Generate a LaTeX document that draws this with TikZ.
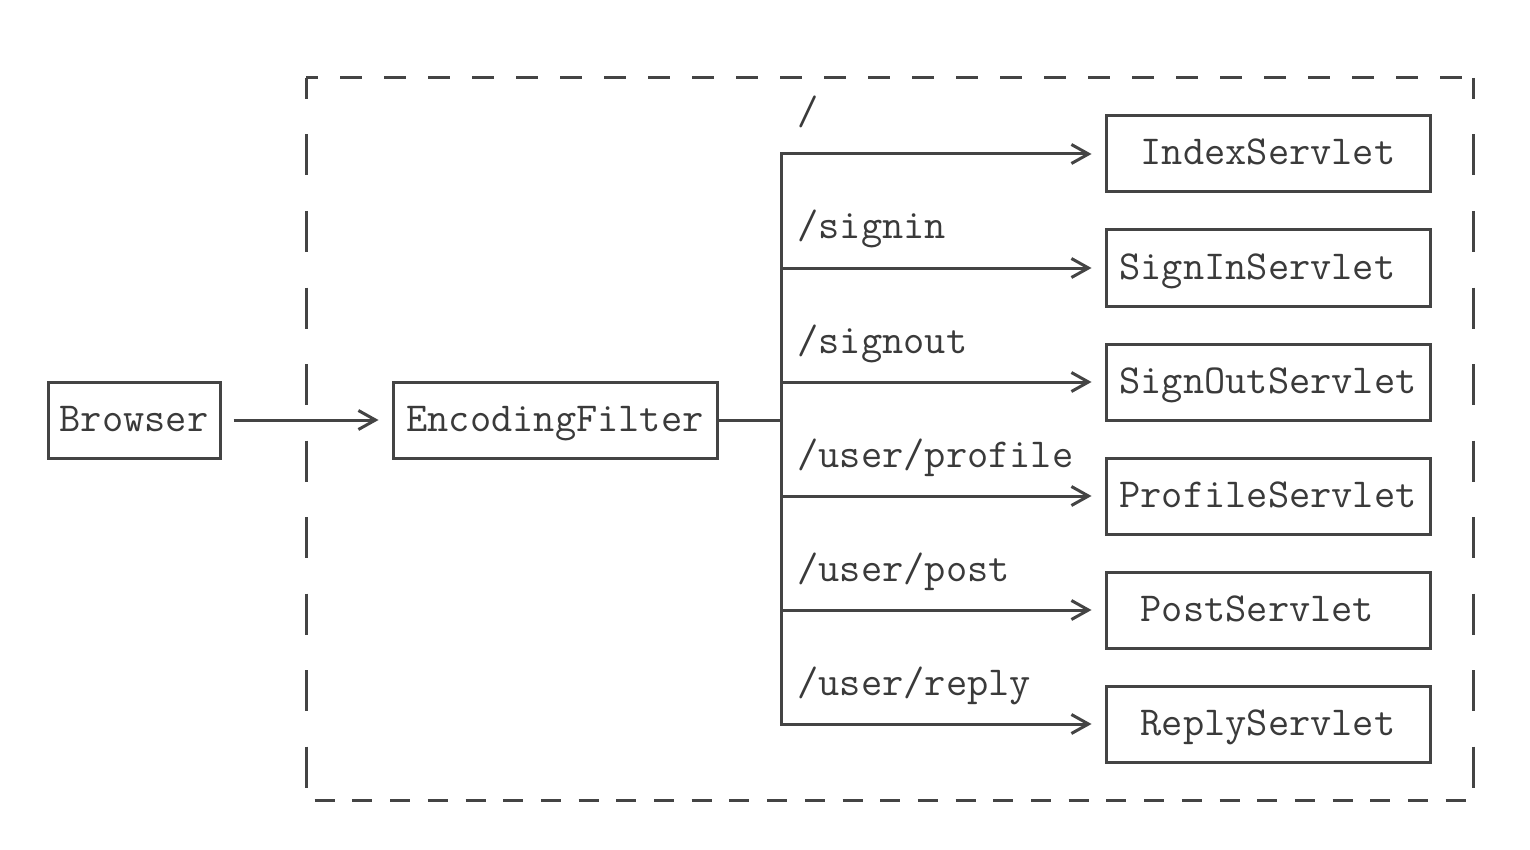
\documentclass[tikz,border=0pt]{standalone}
\usetikzlibrary{arrows.meta}
\definecolor{ink}{HTML}{444444}
\definecolor{txt}{HTML}{3A3A3A}
\begin{document}
\begin{tikzpicture}[x=0.5pt,y=-0.5pt,line width=1.5pt,
  lw/.style={draw=ink,line width=1.5pt},
  box/.style={lw,minimum height=38pt,inner sep=0pt,text=txt,
    text height=11pt,text depth=0pt,
    font=\ttfamily\fontsize{20.6}{22}\selectfont},
  sbox/.style={box,minimum width=162pt},
  lbl/.style={anchor=base west,inner sep=0pt,text=txt,
    font=\ttfamily\fontsize{20.6}{22}\selectfont},
  arr/.style={lw,-{Straight Barb[length=8.5pt,width=9.5pt,line width=1.5pt]}},
  frame/.style={draw=ink,line width=1.5pt}]
\useasboundingbox (0,0) rectangle (1530,850);

% dashed frame
\draw[frame,dash pattern=on 11pt off 11pt,dash phase=5pt] (306,78) -- (1473,78);
\draw[frame,dash pattern=on 20.5pt off 17.75pt,dash phase=10pt] (306,78) -- (306,800);
\draw[frame,dash pattern=on 20.5pt off 17.75pt,dash phase=10pt] (1473,78) -- (1473,800);
\draw[frame,dash pattern=on 10pt off 8.85pt,dash phase=14.5pt] (306,800) -- (1473,800);

% nodes
\node[box,minimum width=86pt] (browser) at (134,420) {Browser};
\node[sbox] (filter) at (555,420) {EncodingFilter};
\node[sbox] (s1) at (1268,154) {IndexServlet};
\node[sbox] (s2) at (1268,268) {SignInServlet\phantom{x}};
\node[sbox] (s3) at (1268,382) {SignOutServlet};
\node[sbox] (s4) at (1268,496) {ProfileServlet};
\node[sbox] (s5) at (1268,610) {PostServlet\phantom{x}};
\node[sbox] (s6) at (1268,724) {ReplyServlet};

% connectors
\draw[arr] ([xshift=6pt]browser.east) -- ([xshift=-6.5pt]filter.west);
\coordinate (j) at (781,420);
\draw[lw] (filter.east) -- (j);
\draw[lw,line cap=rect] (j |- s6.west) -- (j |- s1.west);
\foreach \i in {1,...,6}{
  \draw[arr] (j |- s\i.west) -- ([xshift=-6.5pt]s\i.west);
}

% labels
\node[lbl] (l1) at (796,125) {/};
\node[lbl] (l2) at (796,239) {/signin};
\node[lbl] (l3) at (796,353) {/signout};
\node[lbl] (l4) at (796,467) {/user/profile};
\node[lbl] (l5) at (796,581) {/user/post};
\node[lbl] (l6) at (796,695) {/user/reply};
\end{tikzpicture}
\end{document}
